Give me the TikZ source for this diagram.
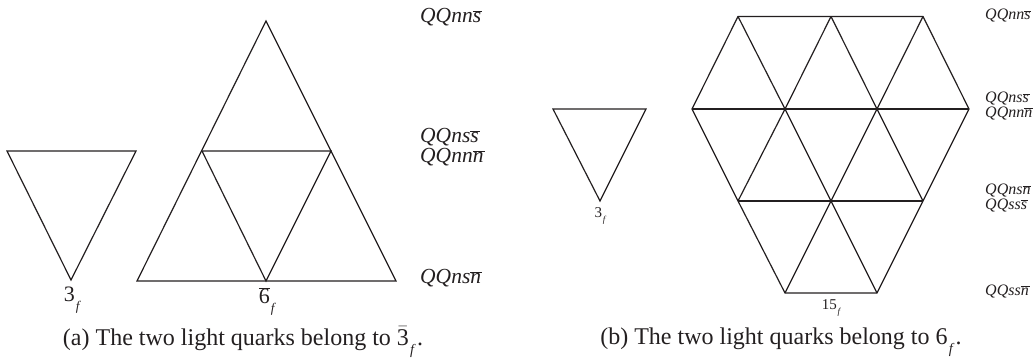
\documentclass[tikz,border=0pt]{standalone}
\usepackage{fontspec}
\setmainfont{Liberation Serif}
\definecolor{ink}{HTML}{231F20}
\newcommand\ovl[1]{$\overline{\mbox{\itshape #1\kern0.05em}}$}
\newcommand\fsub{\kern0.05em\raisebox{-0.38em}{\scalebox{0.6}{\itshape f}}\kern0.12em}
\begin{document}
\begin{tikzpicture}[x=1pt,y=-1pt,
  edge/.style={draw=ink, line width=1.2pt, line join=miter},
  biglab/.style={font=\fontsize{21.5}{20}\selectfont\itshape, text=ink, anchor=west, inner sep=0pt, align=left},
  smalllab/.style={font=\fontsize{16}{14.5}\selectfont\itshape, text=ink, anchor=west, inner sep=0pt, align=left},
  numa/.style={font=\fontsize{22}{24}\selectfont, text=ink, inner sep=0pt},
  numb/.style={font=\fontsize{15}{17}\selectfont, text=ink, inner sep=0pt},
  captext/.style={font=\fontsize{24}{26}\selectfont, text=ink, inner sep=0pt}]
\useasboundingbox (0,0) rectangle (1035,358);
% ---------- panel (a) ----------
\coordinate (a1) at (7,151);
\coordinate (a2) at (136,151);
\coordinate (a3) at (71,280);
\draw[edge] (a1) -- (a2) -- (a3) -- cycle;
\coordinate (A) at (266,21);
\coordinate (B) at (137,281);
\coordinate (C) at (396,281);
\coordinate (L) at (202,151);
\coordinate (R) at (331,151);
\coordinate (M) at (266,281);
\draw[edge] (A) -- (B) -- (C) -- cycle;
\draw[edge] (L) -- (R) -- (M) -- cycle;
\node[numa] (la1) at (73,300) {3\fsub};
\node[numa] (la2) at (268,301) {$\overline{\mbox{6}}$\fsub};
\node[biglab] (ta1) at (420,17) {QQnn\ovl{s}};
\node[biglab] (ta2) at (420,147) {QQns\ovl{s}\\QQnn\ovl{n}};
\node[biglab] (ta3) at (420,278) {QQns\ovl{n}};
\node[captext] (capa) at (243,342) {(a) The two light quarks belong to $\bar{\mbox{3}}$\fsub.};
% ---------- panel (b) ----------
\coordinate (b1) at (553,109);
\coordinate (b2) at (646,109);
\coordinate (b3) at (600,201);
\draw[edge] (b1) -- (b2) -- (b3) -- cycle;
\coordinate (t1) at (738,16.5);
\coordinate (t2) at (831,16.5);
\coordinate (t3) at (923,16.5);
\coordinate (m1) at (692,109);
\coordinate (m2) at (785,109);
\coordinate (m3) at (877,109);
\coordinate (m4) at (969,109);
\coordinate (n1) at (738,201);
\coordinate (n2) at (831,201);
\coordinate (n3) at (923,201);
\coordinate (q1) at (785,293);
\coordinate (q2) at (877,293);
% outline
\draw[edge] (t1) -- (t3) -- (m4) -- (n3) -- (q2) -- (q1) -- (n1) -- (m1) -- cycle;
% horizontals
\draw[edge] (m1) -- (m4);
\draw[edge] (n1) -- (n3);
% down-right diagonals
\draw[edge] (t1) -- (m2) -- (n2) -- (q2);
\draw[edge] (t2) -- (m3) -- (n3);
% down-left diagonals
\draw[edge] (t3) -- (m3) -- (n2) -- (q1);
\draw[edge] (t2) -- (m2) -- (n1);
\node[numb] (lb1) at (601,216) {3\fsub};
\node[numb] (lb2) at (832,308) {15\fsub};
\node[smalllab] (tb1) at (985,16) {QQnn\ovl{s}};
\node[smalllab] (tb2) at (985,106) {QQns\ovl{s}\\QQnn\ovl{n}};
\node[smalllab] (tb3) at (985,198) {QQns\ovl{n}\\QQss\ovl{s}};
\node[smalllab] (tb4) at (985,291) {QQss\ovl{n}};
\node[captext] (capb) at (781,342) {(b) The two light quarks belong to 6\fsub.};
\end{tikzpicture}
\end{document}
